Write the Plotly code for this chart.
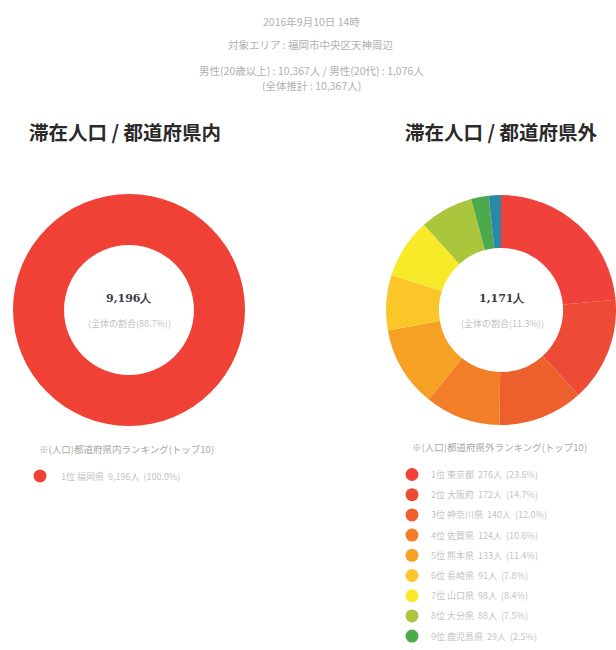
import plotly.graph_objects as go

W, H = 616, 650

# ---------------- data ----------------
header_lines = [
    "2016年9月10日 14時",
    "対象エリア : 福岡市中央区天神周辺",
    "男性(20歳以上) : 10,367人 / 男性(20代) : 1,076人",
    "(全体推計 : 10,367人)",
]
titles = ["滞在人口 / 都道府県内", "滞在人口 / 都道府県外"]

inside_labels = ["1位 福岡県"]
inside_values = [9196]
inside_colors = ["#ef4136"]

outside_labels = ["1位 東京都", "2位 大阪府", "3位 神奈川県", "4位 佐賀県", "5位 熊本県",
                  "6位 長崎県", "7位 山口県", "8位 大分県", "9位 鹿児島県", "10位 愛知県"]
outside_values = [276, 172, 140, 124, 133, 91, 98, 88, 29, 20]
outside_colors = ["#f0413a", "#ee4b36", "#ee5f2e", "#f27e27", "#f6a024",
                  "#fbc628", "#f8ea28", "#a9c63c", "#4caa4c", "#2a88a8"]

center_totals = ["9,196人", "1,171人"]
center_subs = ["(全体の割合(88.7%))", "(全体の割合(11.3%))"]
legend_headers = ["※(人口)都道府県内ランキング(トップ10)", "※(人口)都道府県外ランキング(トップ10)"]

# ---------------- figure ----------------
fig = go.Figure()

def py(y):
    return 1 - y / H

fig.add_trace(go.Pie(
    labels=inside_labels, values=inside_values, hole=0.56, sort=False,
    direction="clockwise", rotation=0, marker=dict(colors=inside_colors, line=dict(width=0)),
    textinfo="none", hoverinfo="label+value", showlegend=False,
    domain=dict(x=[13 / W, 245 / W], y=[py(426), py(194)]),
))
fig.add_trace(go.Pie(
    labels=outside_labels, values=outside_values, hole=0.54, sort=False,
    direction="clockwise", rotation=0, marker=dict(colors=outside_colors, line=dict(width=0)),
    textinfo="none", hoverinfo="label+value", showlegend=False,
    domain=dict(x=[386 / W, 1.0], y=[py(426), py(194)]),
))

# legend markers (overlay pixel axes)
tot_out = sum(outside_values)
tot_in = sum(inside_values)
step = 20.2
lx = [40] * len(inside_labels) + [412] * len(outside_labels)
ly = [476 + step * i for i in range(len(inside_labels))] + [474.5 + step * i for i in range(len(outside_labels))]
lc = inside_colors + outside_colors
fig.add_trace(go.Scatter(
    x=lx, y=ly, mode="markers",
    marker=dict(size=13, color=lc, line=dict(width=0)),
    hoverinfo="skip", showlegend=False,
))

ann = []
gray = "#b0b0b0"
font_jp = "Noto Sans CJK JP"
for txt, y in zip(header_lines, [21, 44, 70, 85]):
    ann.append(dict(x=311, y=y, text=txt, showarrow=False,
                    font=dict(family=font_jp, size=10.5, color=gray)))
for txt, x in zip(titles, [125, 501]):
    ann.append(dict(x=x, y=131, text="<b>" + txt + "</b>", showarrow=False,
                    font=dict(family=font_jp, size=19.5, color="#2a2a2a")))
for tot, sub, x in zip(center_totals, center_subs, [129, 502]):
    ann.append(dict(x=x, y=298, text="<b>" + tot + "</b>", showarrow=False,
                    font=dict(family="DejaVu Serif", size=11, color="#3a3a48")))
    ann.append(dict(x=x, y=323, text=sub, showarrow=False,
                    font=dict(family=font_jp, size=9, color="#c0c0c0")))
for txt, x, y in zip(legend_headers, [37, 410], [449, 447]):
    ann.append(dict(x=x, y=y, text=txt, showarrow=False, xanchor="left",
                    font=dict(family=font_jp, size=9.5, color="#a8a8a8")))
for i, (lab, v) in enumerate(zip(inside_labels, inside_values)):
    ann.append(dict(x=59, y=476 + step * i, xanchor="left", showarrow=False,
                    text=f"{lab}  {v:,}人  ({v / tot_in * 100:.1f}%)",
                    font=dict(family=font_jp, size=9, color="#c4c4c4")))
for i, (lab, v) in enumerate(zip(outside_labels, outside_values)):
    ann.append(dict(x=429, y=474.5 + step * i, xanchor="left", showarrow=False,
                    text=f"{lab}  {v:,}人  ({v / tot_out * 100:.1f}%)",
                    font=dict(family=font_jp, size=9, color="#c4c4c4")))

fig.update_layout(
    width=W, height=H, margin=dict(l=0, r=0, t=0, b=0),
    paper_bgcolor="white", plot_bgcolor="rgba(0,0,0,0)",
    xaxis=dict(range=[0, W], visible=False, fixedrange=True, domain=[0, 1]),
    yaxis=dict(range=[H, 0], visible=False, fixedrange=True, domain=[0, 1]),
    annotations=ann, showlegend=False,
)

fig.write_html("out.html", config={"displayModeBar": False},
               post_script="document.body.style.margin='0';document.body.style.overflow='hidden';")
